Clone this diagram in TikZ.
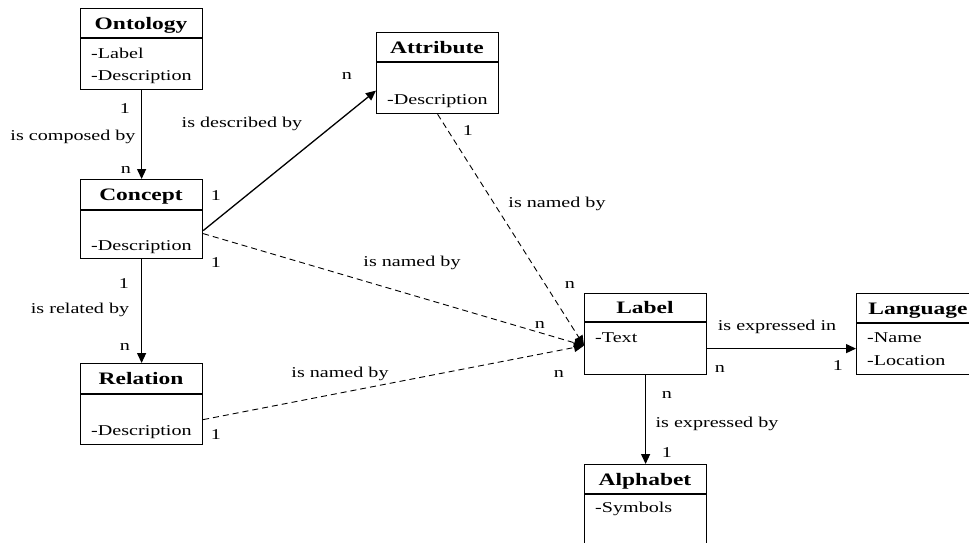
\documentclass[tikz,border=0pt]{standalone}
\usepackage{fontspec}
\setmainfont[FakeStretch=1.34]{Liberation Serif}
\usetikzlibrary{arrows.meta}

\tikzset{
  classbox/.style={draw, line width=1.2pt, anchor=north west, minimum width=122pt, inner sep=0pt},
  classname/.style={inner sep=0pt, text height=12pt, text depth=0pt, font=\fontsize{17.5}{20}\selectfont\bfseries},
  attr/.style={anchor=west, inner sep=0pt, text height=10pt, text depth=0pt, font=\fontsize{15}{18}\selectfont},
  lbl/.style={inner sep=0pt, text height=10pt, text depth=0pt, font=\fontsize{15}{18}\selectfont},
  assoc/.style={line width=1.3pt, -{Triangle[length=10pt,width=9pt]}},
  naming/.style={assoc, line width=0.9pt, dash pattern=on 6pt off 4pt}
}

\begin{document}
\begin{tikzpicture}[x=1pt,y=-1pt]
  \clip (0,0) rectangle (969,542);

  % Classes
  \node[classbox, minimum height=81pt] (ont) at (80,8) {};
  \draw[line width=1.2pt] ([yshift=-30pt]ont.north west) -- ([yshift=-30pt]ont.north east);
  \node[classname] (ont-name) at (141,23) {Ontology};
  \node[attr] (ont-a1) at (91,53) {-Label};
  \node[attr] (ont-a2) at (91,75) {-Description};

  \node[classbox, minimum height=81pt] (att) at (376,32) {};
  \draw[line width=1.2pt] ([yshift=-30pt]att.north west) -- ([yshift=-30pt]att.north east);
  \node[classname] (att-name) at (437,47) {Attribute};
  \node[attr] (att-a1) at (387,99) {-Description};

  \node[classbox, minimum height=79pt] (con) at (80,179) {};
  \draw[line width=1.2pt] ([yshift=-31pt]con.north west) -- ([yshift=-31pt]con.north east);
  \node[classname] (con-name) at (141,194.5) {Concept};
  \node[attr] (con-a1) at (91,245) {-Description};

  \node[classbox, minimum height=81pt] (rel) at (80,363) {};
  \draw[line width=1.2pt] ([yshift=-31pt]rel.north west) -- ([yshift=-31pt]rel.north east);
  \node[classname] (rel-name) at (141,378.5) {Relation};
  \node[attr] (rel-a1) at (91,430) {-Description};

  \node[classbox, minimum height=81pt] (lab) at (584,293) {};
  \draw[line width=1.2pt] ([yshift=-29pt]lab.north west) -- ([yshift=-29pt]lab.north east);
  \node[classname] (lab-name) at (645,307.5) {Label};
  \node[attr] (lab-a1) at (595,337) {-Text};

  \node[classbox, minimum height=81pt, minimum width=124pt] (lang) at (856,293) {};
  \draw[line width=1.2pt] ([yshift=-30pt]lang.north west) -- ([yshift=-30pt]lang.north east);
  \node[classname] (lang-name) at (918,308) {Language};
  \node[attr] (lang-a1) at (867,337) {-Name};
  \node[attr] (lang-a2) at (867,360) {-Location};

  \node[classbox, minimum height=100pt] (alph) at (584,464) {};
  \draw[line width=1.2pt] ([yshift=-30pt]alph.north west) -- ([yshift=-30pt]alph.north east);
  \node[classname] (alph-name) at (645,479) {Alphabet};
  \node[attr] (alph-a1) at (595,507) {-Symbols};

  % Associations
  \coordinate (lab-tip) at ([yshift=-11.5pt]lab.west);
  \coordinate (lab-out) at ([yshift=-14.5pt]lab.east);
  \draw[assoc] (ont.south) -- (con.north);
  \draw[assoc] (con.south) -- (rel.north);
  \draw[assoc] ([yshift=-11.5pt]con.east) -- ([yshift=-17.5pt]att.west);
  \draw[naming] ([yshift=-14.5pt]con.east) -- (lab-tip);
  \draw[naming] (att.south) -- (lab-tip);
  \draw[naming] ([yshift=-15.5pt]rel.east) -- (lab-tip);
  \draw[assoc] (lab-out) -- (lang.west |- lab-out);
  \draw[assoc] (lab.south) -- (alph.north);

  % Labels
  \node[lbl] (l1) at (125,108) {1};
  \node[lbl] (l2) at (73,135) {is composed by};
  \node[lbl] (l3) at (126,168) {n};
  \node[lbl] (l4) at (242,122) {is described by};
  \node[lbl] (l5) at (216,195) {1};
  \node[lbl] (l6) at (216,262) {1};
  \node[lbl] (l7) at (347,74) {n};
  \node[lbl] (l8) at (468,130) {1};
  \node[lbl] (l9) at (557,202) {is named by};
  \node[lbl] (l10) at (412,261) {is named by};
  \node[lbl] (l11) at (570,283) {n};
  \node[lbl] (l12) at (540,323) {n};
  \node[lbl] (l13) at (559,372) {n};
  \node[lbl] (l14) at (124,283) {1};
  \node[lbl] (l15) at (80,308) {is related by};
  \node[lbl] (l16) at (125,345) {n};
  \node[lbl] (l17) at (340,372) {is named by};
  \node[lbl] (l18) at (216,434) {1};
  \node[lbl] (l19) at (777,325) {is expressed in};
  \node[lbl] (l20) at (720,367) {n};
  \node[lbl] (l21) at (838,365) {1};
  \node[lbl] (l22) at (667,393) {n};
  \node[lbl] (l23) at (717,422) {is expressed by};
  \node[lbl] (l24) at (667,452) {1};
\end{tikzpicture}
\end{document}
